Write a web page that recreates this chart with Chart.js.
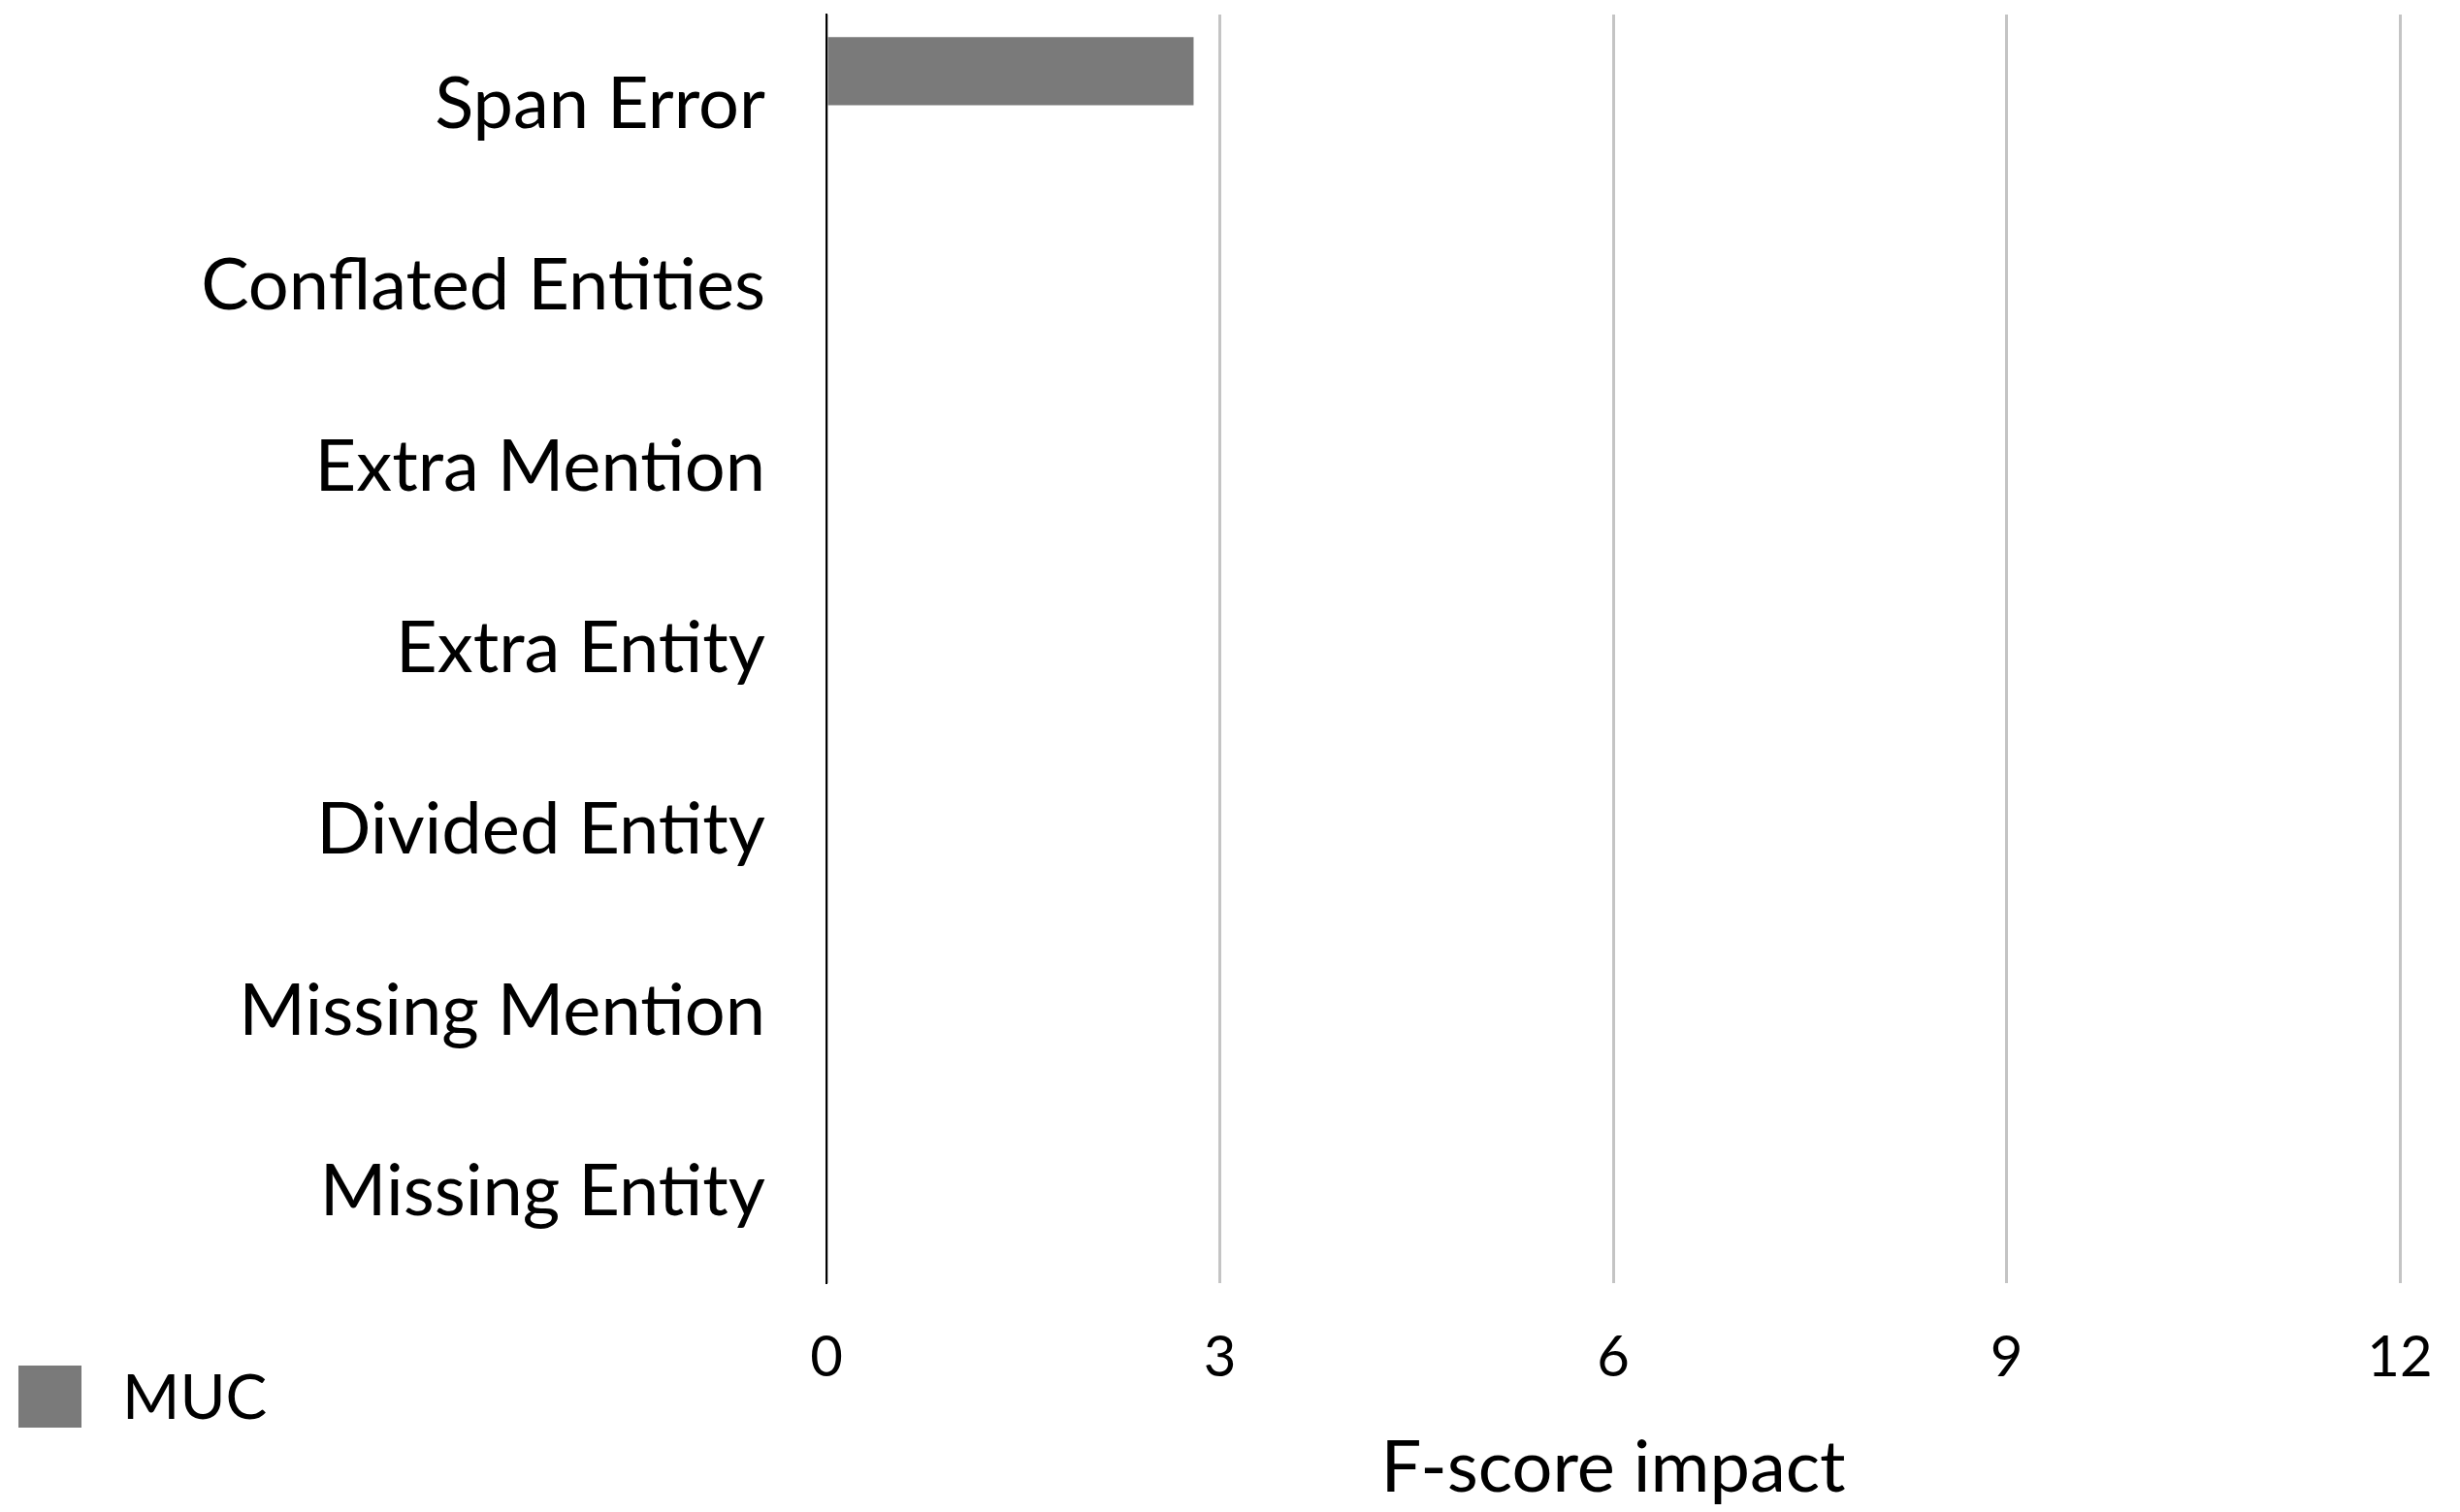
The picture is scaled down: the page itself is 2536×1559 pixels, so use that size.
<!DOCTYPE html>
<html><head><meta charset="utf-8">
<script src="https://cdn.jsdelivr.net/npm/chart.js@4/dist/chart.umd.min.js"></script>
<style>html,body{margin:0;padding:0;background:#fff;overflow:hidden;} #wrap{width:2536px;height:1559px;}</style>
</head><body><div id="wrap"><canvas id="c" width="2536" height="1559"></canvas></div>
<script>
const categories = ["Span Error","Conflated Entities","Extra Mention","Extra Entity","Divided Entity","Missing Mention","Missing Entity"];
const mucValues = [2.8, null, null, null, null, null, null];
const otherValues = [null, null, null, null, null, null, null];
const xTicks = [0, 3, 6, 9, 12];
const seriesLabel = "MUC";
const axisTitle = "F-score impact";

const FONT = "Lato";
const BAR_COLOR = "#7a7a7a";

const legendPlugin = {
  id: 'customLegend',
  afterDraw(chart) {
    const ctx = chart.ctx;
    const ds = chart.data.datasets[0];
    ctx.save();
    ctx.fillStyle = ds.backgroundColor;
    ctx.fillRect(19, 1408, 65, 64);
    ctx.fillStyle = '#000';
    ctx.font = '64px ' + FONT;
    ctx.textBaseline = 'middle';
    ctx.textAlign = 'left';
    ctx.fillText(ds.label, 126, 1442);
    ctx.restore();
  }
};

new Chart(document.getElementById('c'), {
  type: 'bar',
  data: {
    labels: categories,
    datasets: [
      { label: seriesLabel, data: mucValues, backgroundColor: BAR_COLOR, borderWidth: 0 },
      { label: '', data: otherValues, backgroundColor: 'rgba(0,0,0,0)', borderWidth: 0 }
    ]
  },
  options: {
    indexAxis: 'y',
    responsive: false,
    animation: false,
    devicePixelRatio: 1,
    layout: { padding: { top: 15, right: 62, left: 0, bottom: 0 } },
    datasets: { bar: { categoryPercentage: 0.75, barPercentage: 1.0 } },
    plugins: { legend: { display: false }, tooltip: { enabled: false } },
    scales: {
      x: {
        min: 0, max: 12,
        afterBuildTicks(scale) { scale.ticks = xTicks.map(v => ({ value: v })); },
        afterFit(scale) { scale.height = 236; scale.paddingLeft = 0; scale.paddingRight = 0; },
        grid: { color: '#c4c4c4', lineWidth: 3, drawTicks: false },
        border: { display: false },
        ticks: { color: '#000', font: { family: FONT, size: 58 }, padding: 42 },
        title: { display: true, text: axisTitle, color: '#000', font: { family: FONT, size: 74 }, padding: { top: 0, bottom: 0 } }
      },
      y: {
        afterFit(scale) { scale.width = 852; scale.paddingTop = 0; scale.paddingBottom = 0; },
        grid: { display: false, drawTicks: false },
        border: { display: true, color: '#000', width: 2 },
        ticks: { color: '#000', font: { family: FONT, size: 74 }, padding: 63 }
      }
    }
  },
  plugins: [legendPlugin]
});
</script></body></html>
